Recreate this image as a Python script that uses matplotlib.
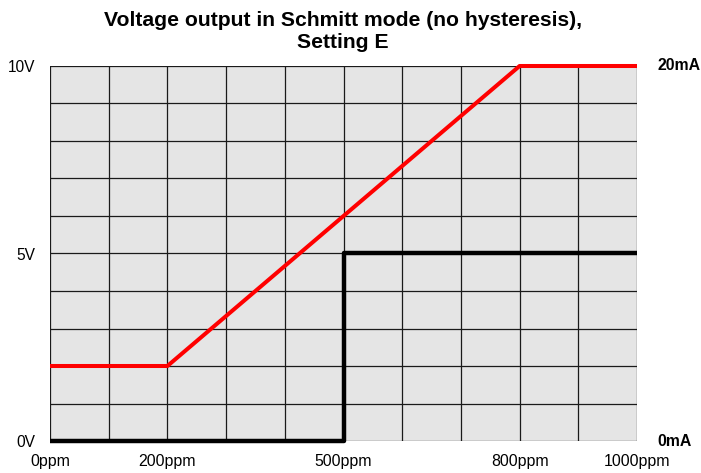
import matplotlib
matplotlib.use("Agg")
import matplotlib.pyplot as plt
import numpy as np

plt.rcParams['font.family'] = ['Liberation Sans', 'DejaVu Sans']

# Data
red_x = [0, 200, 800, 1000]          # ppm
red_y = [2, 2, 10, 10]               # V
black_x = [0, 500, 500, 1000]        # ppm
black_y = [0, 0, 5, 5]               # V
xtick_vals = [0, 200, 500, 800, 1000]
xtick_labels = ['0ppm', '200ppm', '500ppm', '800ppm', '1000ppm']
ytick_vals = [0, 5, 10]
ytick_labels = ['0V', '5V', '10V']
right_labels = ['0mA', '20mA']
title = 'Voltage output in Schmitt mode (no hysteresis),\nSetting E'

W, H = 701, 473
fig = plt.figure(figsize=(W/100, H/100), dpi=100)
ax = fig.add_axes([50/W, (H-441)/H, (637-50)/W, (441-66)/H])
ax.set_facecolor('#E5E5E5')
ax.set_xlim(0, 1000)
ax.set_ylim(0, 10)

for x in np.arange(0, 1001, 100):
    ax.axvline(x, color='#1a1a1a', lw=0.9, zorder=1)
for y in np.arange(0, 10.01, 1):
    ax.axhline(y, color='#1a1a1a', lw=0.9, zorder=1)
for s in ax.spines.values():
    s.set_visible(False)

ax.plot(black_x, black_y, color='black', lw=3.2, zorder=3, clip_on=False, solid_capstyle='butt')
ax.plot(red_x, red_y, color='#FF0000', lw=2.9, zorder=4, clip_on=False, solid_capstyle='butt')

ax.set_xticks(xtick_vals)
ax.set_xticklabels(xtick_labels, fontsize=11.4)
ax.set_yticks(ytick_vals)
ax.set_yticklabels(ytick_labels, fontsize=11.2)
ax.tick_params(axis='both', length=0)
ax.tick_params(axis='x', pad=9)
ax.tick_params(axis='y', pad=10.5)

ax.text(1.035, 0, right_labels[0], transform=ax.transAxes, fontsize=11.4,
        fontweight='bold', ha='left', va='center')
ax.text(1.035, 1, right_labels[1], transform=ax.transAxes, fontsize=11.4,
        fontweight='bold', ha='left', va='center')

fig.text(343/W, 1 - 31/H, title, fontsize=15.2, fontweight='bold',
         ha='center', va='center', linespacing=1.2)

fig.savefig('out.png', dpi=100)
